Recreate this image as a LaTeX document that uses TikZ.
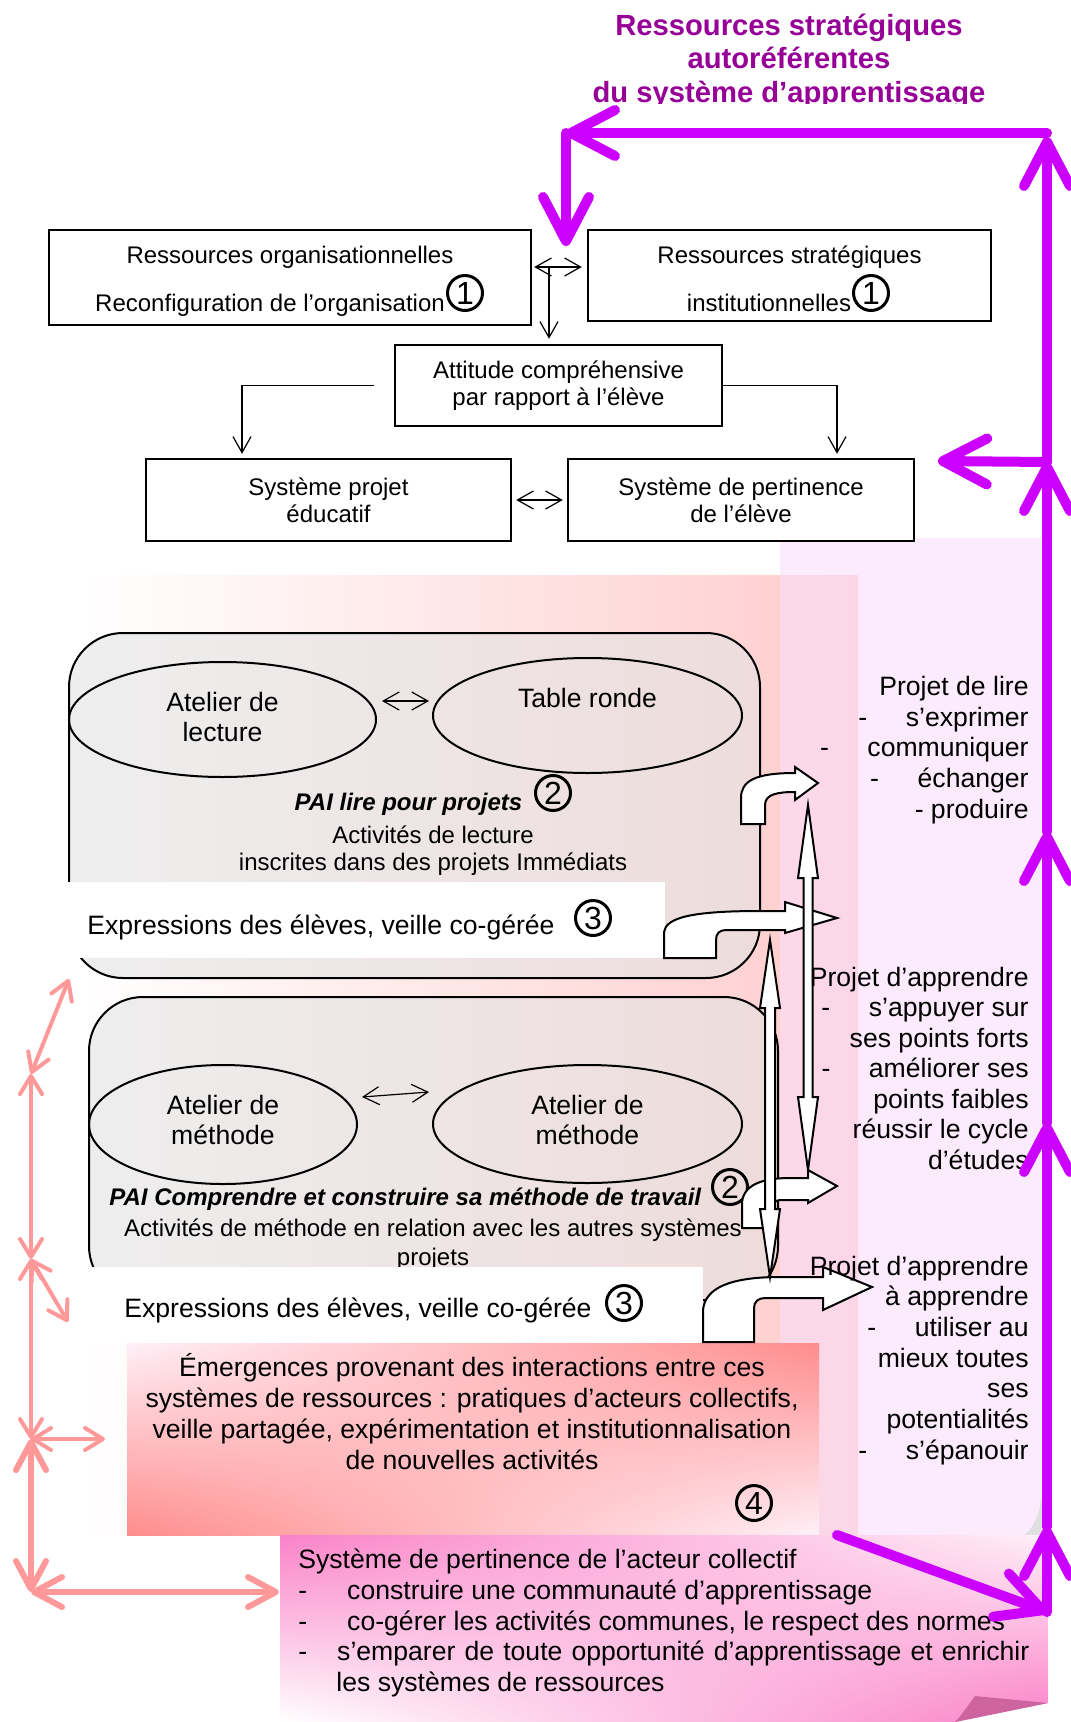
\documentclass[tikz,border=0pt]{standalone}
\usepackage{fontspec}
\setmainfont{Liberation Sans}
\usepackage{tikz}
\usetikzlibrary{shapes}
\usetikzlibrary{arrows.meta}
\usetikzlibrary{shadings}

\definecolor{violettitre}{RGB}{150,0,150}
\definecolor{violetfleche}{RGB}{204,0,255}
\definecolor{rosefleche}{RGB}{255,153,153}
\definecolor{rosefond}{RGB}{255,204,204}
\definecolor{lavande}{RGB}{250,222,250}
\definecolor{grisboite}{RGB}{227,227,227}
\definecolor{saumon}{RGB}{255,140,140}
\definecolor{rosepale}{RGB}{255,240,248}
\definecolor{rosevif}{RGB}{250,130,200}
\definecolor{rosepli}{RGB}{205,100,160}

\newcommand{\tiret}{\llap{-\hspace{19.3pt}}}
\newcommand{\blanc}[1]{\mbox{\hspace{#1}}}

\tikzset{
	titre/.style = {inner sep=0pt, align=center, text=violettitre,
		font=\fontsize{14.6}{16.75}\selectfont\bfseries},
	boite/.style = {draw=black, line width=1.2pt, fill=white, inner sep=0pt,
		align=center, font=\fontsize{12}{13.5}\selectfont},% cadres du haut
	cadre/.style = {draw=black, line width=1pt, fill=grisboite,
		fill opacity=0.6, rounded corners=27pt},% systemes arrondis
	ovale/.style = {ellipse, draw=black, line width=1pt, inner sep=0pt,
		align=center, font=\fontsize{13.3}{15}\selectfont},% ateliers
	texte/.style = {inner sep=0pt, font=\fontsize{13.3}{15.375}\selectfont},
	petit/.style = {inner sep=0pt, align=center,
		font=\fontsize{12}{13.5}\selectfont},
	num/.style = {circle, draw=black, line width=1.5pt, inner sep=0pt,
		minimum size=17.5pt, font=\fontsize{16}{16}\selectfont},% chiffres cercles
	bloc/.style = {draw=black, line width=1pt, fill=white},% fleches blanches
	fleche_noire/.style = {line width=0.6pt,
		>={Straight Barb[length=8pt,width=9pt]}},
	fleche_violette/.style = {draw=violetfleche, line width=5pt, line cap=round,
		>={Straight Barb[length=22pt,width=23pt,round]}},
	fleche_rose/.style = {draw=rosefleche, line width=2pt, line cap=round,
		>={Straight Barb[length=9pt,width=11pt,round]}},
	fleche_rose_grasse/.style = {fleche_rose, line width=3pt,
		>={Straight Barb[length=14pt,width=15pt,round]}}
}

\begin{document}
\begin{tikzpicture}[x=0.5pt,y=-0.5pt]
	\useasboundingbox (0,0) rectangle (1070,1722);
	% titre coupe en bas
	\begin{scope}
		\clip (0,0) rectangle (1070,103.5);
		\node[titre] (titre) at (789,61) {Ressources stratégiques\\autoréférentes\\du système d’apprentissage};
	\end{scope}

	% fonds
	\shade[left color=white, right color=rosefond] (82,575) rectangle (858,1535);
	\fill[lavande, opacity=0.6] (780,538) rectangle (1041,1535);
	\fill[black!12] (1042,1495) .. controls (1040,1515) and (1032,1530) .. (1024,1535) -- (1042,1535) -- cycle;

	% systemes arrondis
	\draw[cadre] (69,633) rectangle (760,978);
	\draw[cadre] (89,997) rectangle (778,1300);

	\node[ovale, minimum width=153.5pt, minimum height=57.5pt] (alecture) at (222.5,719.5) {Atelier de\\lecture\rule[-2.8pt]{0pt}{2.8pt}};
	\node[ovale, minimum width=154.5pt, minimum height=57.5pt] (tronde) at (587.5,715.5) {Table ronde\\\rule[-2.2pt]{0pt}{2.2pt}};
	\draw[fleche_noire,<->] ([shift={(2.5pt,9.25pt)}]alecture.east) -- ([shift={(-1.5pt,7.25pt)}]tronde.west);

	\node[ovale, minimum width=134pt, minimum height=59.5pt] (amethode) at (223,1124.5) {Atelier de\\méthode\rule[-4.4pt]{0pt}{4.4pt}};
	\node[ovale, minimum width=154.5pt, minimum height=59pt] (amethodeb) at (587.5,1124) {Atelier de\\méthode\rule[-4.4pt]{0pt}{4.4pt}};
	\draw[fleche_noire,<->] ([shift={(2pt,13.75pt)}]amethode.east) -- ([shift={(-1.5pt,16pt)}]amethodeb.west);

	\node[petit] (pailire) at (433,834) {\textbf{\textit{PAI lire pour projets}}\blanc{24.5pt}\\[3pt]Activités de lecture\\inscrites dans des projets Immédiats};
	\node[petit, font=\fontsize{12}{14.5}\selectfont] (paimethode) at (433,1229) {\textbf{\textit{PAI Comprendre et construire sa méthode de travail}}\blanc{27.5pt}\\[1pt]Activités de méthode en relation avec les autres systèmes\\projets};

	% expressions des eleves
	\fill[white] (66,882) rectangle (665,958);
	\fill[white] (82,1267) rectangle (703,1343);
	\node[texte, anchor=west] (expr) at (87,927) {Expressions des élèves, veille co-gérée};
	\node[texte, anchor=west] (exprb) at (124,1310) {Expressions des élèves, veille co-gérée};

	% emergences et acteur collectif
	\shade[upper left=rosepale, upper right=saumon, lower left=saumon, lower right=rosepale] (127,1343) rectangle (819,1535);
	\node[texte, align=center, font=\fontsize{13.3}{15.5}\selectfont] (emergences) at (472,1412) {Émergences provenant des interactions entre ces\\systèmes de ressources : pratiques d’acteurs collectifs,\\veille partagée, expérimentation et institutionnalisation\\de nouvelles activités};
	\shade[upper left=rosevif, upper right=rosepale, lower left=white, lower right=rosevif] (280,1535) -- (1048,1535) -- (1048,1703) -- (955,1722) -- (280,1722) -- cycle;
	\fill[rosepli] (1048,1703) -- (975,1696) .. controls (968,1705) and (962,1715) .. (955,1722) -- cycle;
	\node[texte, anchor=north west, align=left] (acteur) at (298,1548.5) {Système de pertinence de l’acteur collectif\\-\hspace{20pt}construire une communauté d’apprentissage\\-\hspace{20pt}co-gérer les activités communes, le respect des normes\\-\hspace{15pt}\makebox[346pt][s]{s’emparer de toute opportunité d’apprentissage et enrichir}\\\hspace*{19pt}les systèmes de ressources};

	% chiffres
	\node[num] (deuxa) at (553,793) {2};
	\node[num] (deuxb) at (730,1187) {2};
	\node[num] (troisa) at (593,918) {3};
	\node[num] (troisb) at (624,1303) {3};
	\node[num] (quatre) at (754,1503) {4};

	% fleches blanches
	\draw[bloc] (741,824) -- (741,798) .. controls (741,781) and (755,773) .. (795,773) -- (795,767) -- (818,783) -- (795,800) -- (795,792) .. controls (778,792) and (765,794) .. (765,805) -- (765,824) -- cycle;
	\draw[bloc] (664,958) -- (664,932) .. controls (666,918) and (690,911) .. (760,911) -- (785,911) -- (785,902) -- (837,918) -- (785,933) -- (785,930) -- (726,930) .. controls (719,930) and (716,934) .. (716,940) -- (716,958) -- cycle;
	\draw[bloc] (742,1228) -- (742,1203) .. controls (743,1186) and (760,1178) .. (790,1178) -- (808,1178) -- (808,1170) -- (837,1186) -- (808,1203) -- (808,1200) -- (782,1200) .. controls (774,1200) and (770,1204) .. (770,1210) -- (770,1228) -- cycle;
	\draw[bloc] (703,1342) -- (703,1310) .. controls (705,1288) and (730,1277) .. (780,1277) -- (823,1277) -- (823,1267) -- (872,1287) -- (823,1310) -- (823,1298) -- (765,1298) .. controls (758,1298) and (754,1302) .. (754,1308) -- (754,1342) -- cycle;
	\draw[bloc] (808,805) -- (818,878) -- (812.5,878) -- (812.5,1097) -- (818,1097) -- (808,1170) -- (798,1097) -- (803.5,1097) -- (803.5,878) -- (798,878) -- cycle;
	\draw[bloc] (770,940) -- (780,1008) -- (775,1008) -- (775,1209) -- (780,1209) -- (770,1277) -- (760,1209) -- (765,1209) -- (765,1008) -- (760,1008) -- cycle;

	% projets a droite
	\node[texte, anchor=north east, align=right] (lire) at (1029,675.6) {Projet de lire\\\tiret s’exprimer\\\tiret communiquer\\\tiret échanger\\- produire};
	\node[texte, anchor=north east, align=right, font=\fontsize{13.3}{15.25}\selectfont] (apprendre) at (1029,966.6) {Projet d’apprendre\\\tiret s’appuyer sur\\ses points forts\\\tiret améliorer ses\\points faibles\\réussir le cycle\\d’études};
	\node[texte, anchor=north east, align=right, font=\fontsize{13.3}{15.33}\selectfont] (apprendreb) at (1029,1255.6) {Projet d’apprendre\\à apprendre\\\tiret utiliser au\\mieux toutes\\ses\\potentialités\\\tiret s’épanouir};

	% cadres du haut
	\node[boite, minimum width=241pt, minimum height=47.5pt, font=\fontsize{12}{24}\selectfont] (ressorg) at (290,277.5) {\rule{0pt}{12pt}Ressources organisationnelles\\Reconfiguration de l’organisation\blanc{20pt}};
	\node[boite, minimum width=201.5pt, minimum height=45.5pt, font=\fontsize{12}{24}\selectfont] (ressstrat) at (789.5,275.5) {\rule{0pt}{12pt}Ressources stratégiques\\institutionnelles\blanc{20.5pt}};
	\node[num] (una) at (465,293) {1};
	\node[num] (unb) at (871,293) {1};
	\node[boite, minimum width=163.5pt, minimum height=40.5pt] (attitude) at (558.5,385.5) {Attitude compréhensive\\par rapport à l’élève};
	\node[boite, minimum width=182.5pt, minimum height=41pt] (projet) at (328.5,500) {Système projet\\éducatif};
	\node[boite, minimum width=173pt, minimum height=41pt] (pertinence) at (741,500) {Système de pertinence\\de l’élève};

	\coordinate (croise) at (549,267);
	\draw[fleche_noire,<->,shorten <=1pt,shorten >=2.5pt] (ressorg.east |- croise) -- (ressstrat.west |- croise);
	\draw[fleche_noire,->,shorten >=2.5pt] (croise) -- (croise |- attitude.north);
	\draw[fleche_noire,->,shorten <=10pt,shorten >=2pt] (attitude.west) -| ([xshift=-43.25pt]projet.north);
	\draw[fleche_noire,->,shorten >=2pt] (attitude.east) -| ([xshift=48pt]pertinence.north);
	\draw[fleche_noire,<->,shorten <=2pt,shorten >=2pt] (projet.east) -- (pertinence.west);

	% boucle violette
	\coordinate (mbas) at (1047,1612);
	\coordinate (mun) at (1047,1527);
	\coordinate (mdeux) at (1047,1123);
	\coordinate (mtrois) at (1047,832);
	\coordinate (mquatre) at (1047,462);
	\coordinate (msommet) at (1047,137);
	\coordinate (mcoin) at (1047,133);
	\coordinate (mgauche) at (566,133);
	\coordinate (mcible) at (566,246);
	\coordinate (mbranche) at (938,461);
	\coordinate (mdiag) at (837,1535);
	\draw[fleche_violette,->] (mbas) -- (mun);
	\draw[fleche_violette,->] (mun) -- (mdeux);
	\draw[fleche_violette,->] (mdeux) -- (mtrois);
	\draw[fleche_violette,->] (mtrois) -- (mquatre);
	\draw[fleche_violette,->] (mquatre) -- (msommet);
	\draw[fleche_violette,->] (mcoin) -- (mgauche);
	\draw[fleche_violette,->] (mgauche) -- (mcible);
	\draw[fleche_violette,->] (mquatre) -- (mbranche);
	\draw[fleche_violette,->] (mdiag) -- (mbas);

	% fleches roses
	\coordinate (pa) at (69,979);
	\coordinate (pb) at (31,1074);
	\coordinate (pc) at (31,1259);
	\coordinate (pd) at (68,1322);
	\coordinate (pe) at (31,1439);
	\coordinate (pf) at (105,1439);
	\coordinate (pg) at (31,1592);
	\coordinate (ph) at (279,1592);
	\draw[fleche_rose,<->] (pa) -- (pb);
	\draw[fleche_rose,<->] (pb) -- (pc);
	\draw[fleche_rose,<->] (pc) -- (pd);
	\draw[fleche_rose,<->] (pc) -- (pe);
	\draw[fleche_rose,<->] (pe) -- (pf);
	\draw[fleche_rose_grasse,<->] (pe) -- (pg);
	\draw[fleche_rose_grasse,<->] (pg) -- (ph);
\end{tikzpicture}
\end{document}
